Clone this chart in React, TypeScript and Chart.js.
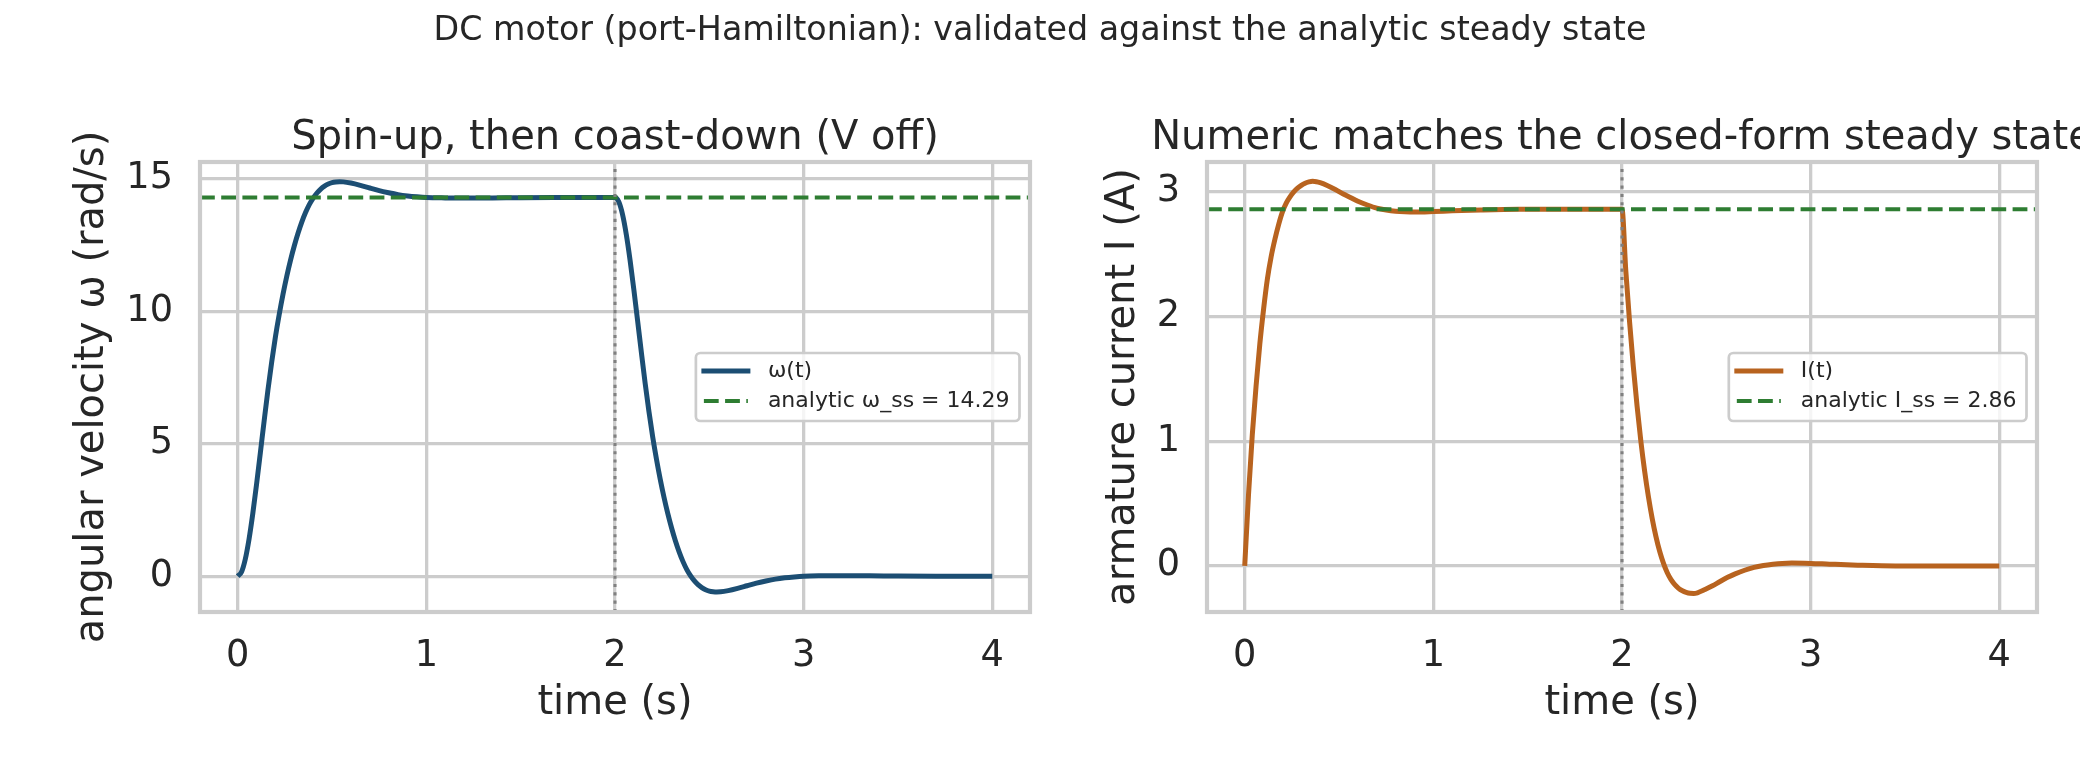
import React, { useEffect, useRef } from "react";
import { Chart, registerables } from "chart.js";

Chart.register(...registerables);

const FONT = "'DejaVu Sans', sans-serif";
const TEXT = "#262626";
const GRID = "#cccccc";

const SUPTITLE = "DC motor (port-Hamiltonian): validated against the analytic steady state";

// Shared time axis
const timeTicks = [0, 1, 2, 3, 4];
const T_MIN = -0.2;
const T_MAX = 4.2;
const T_OFF = 2; // supply voltage switched off

// Angular velocity ω(t) in rad/s
const omegaT = [
  0, 0.02, 0.04, 0.06, 0.08, 0.1, 0.12, 0.14, 0.16, 0.18, 0.2, 0.22, 0.24, 0.26, 0.28, 0.3, 0.32,
  0.34, 0.36, 0.38, 0.4, 0.42, 0.44, 0.46, 0.48, 0.5, 0.52, 0.54, 0.56, 0.6, 0.65, 0.7, 0.75, 0.8,
  0.85, 0.9, 0.95, 1.0, 1.1, 1.2, 1.35, 1.5, 1.7, 2.0, 2.02, 2.04, 2.06, 2.08, 2.1, 2.12, 2.14,
  2.16, 2.18, 2.2, 2.22, 2.24, 2.26, 2.28, 2.3, 2.32, 2.34, 2.36, 2.38, 2.4, 2.42, 2.44, 2.46,
  2.48, 2.5, 2.52, 2.54, 2.56, 2.6, 2.65, 2.7, 2.75, 2.8, 2.85, 2.9, 2.95, 3.0, 3.1, 3.2, 3.35,
  3.5, 3.7, 4.0,
];
const omegaV = [
  0, 0.16, 0.64, 1.4, 2.37, 3.48, 4.66, 5.86, 7.02, 8.08, 9.04, 9.88, 10.64, 11.32, 11.93, 12.47,
  12.95, 13.37, 13.73, 14.03, 14.27, 14.46, 14.61, 14.72, 14.8, 14.85, 14.875, 14.885, 14.88,
  14.835, 14.75, 14.65, 14.55, 14.47, 14.4, 14.35, 14.315, 14.29, 14.275, 14.27, 14.275, 14.285,
  14.29, 14.29, 14.13, 13.65, 12.89, 11.92, 10.81, 9.63, 8.43, 7.27, 6.21, 5.25, 4.41, 3.65, 2.97,
  2.36, 1.82, 1.34, 0.92, 0.56, 0.26, 0.02, -0.17, -0.32, -0.43, -0.51, -0.56, -0.585, -0.595,
  -0.59, -0.545, -0.46, -0.36, -0.26, -0.18, -0.11, -0.06, -0.025, 0.0, 0.015, 0.02, 0.015, 0.005,
  0.0, 0.0,
];
const OMEGA_SS = 14.29;
const omegaTicks = [0, 5, 10, 15];
const OMEGA_MIN = -1.35;
const OMEGA_MAX = 15.63;

// Armature current I(t) in A
const currentT = [
  0, 0.02, 0.04, 0.06, 0.08, 0.1, 0.12, 0.14, 0.16, 0.18, 0.2, 0.22, 0.24, 0.26, 0.28, 0.3, 0.32,
  0.34, 0.36, 0.38, 0.4, 0.44, 0.48, 0.52, 0.56, 0.6, 0.65, 0.7, 0.75, 0.8, 0.85, 0.9, 1.0, 1.1,
  1.25, 1.45, 2.0, 2.02, 2.04, 2.06, 2.08, 2.1, 2.12, 2.14, 2.16, 2.18, 2.2, 2.22, 2.24, 2.26,
  2.28, 2.3, 2.32, 2.34, 2.36, 2.38, 2.4, 2.44, 2.48, 2.52, 2.56, 2.6, 2.65, 2.7, 2.75, 2.8, 2.85,
  2.9, 3.0, 3.1, 3.25, 3.45, 4.0,
];
const currentV = [
  0, 0.57, 1.05, 1.44, 1.78, 2.06, 2.3, 2.48, 2.62, 2.74, 2.84, 2.91, 2.96, 3.0, 3.03, 3.053,
  3.07, 3.08, 3.085, 3.082, 3.074, 3.05, 3.02, 2.985, 2.955, 2.925, 2.895, 2.87, 2.855, 2.845,
  2.84, 2.838, 2.842, 2.848, 2.855, 2.86, 2.86, 2.37, 1.96, 1.6, 1.28, 1.0, 0.76, 0.555, 0.38,
  0.235, 0.115, 0.02, -0.055, -0.11, -0.15, -0.18, -0.2, -0.213, -0.22, -0.221, -0.216, -0.19,
  -0.16, -0.125, -0.092, -0.064, -0.035, -0.012, 0.003, 0.013, 0.02, 0.023, 0.02, 0.014, 0.006,
  0.0, 0.0,
];
const CURRENT_SS = 2.86;
const currentTicks = [0, 1, 2, 3];
const CURRENT_MIN = -0.37;
const CURRENT_MAX = 3.24;

const BLUE = "#1c4e73";
const ORANGE = "#b8631f";
const GREEN = "#2e7d32";
const GRAY = "#808080";

type Panel = {
  title: string;
  yLabel: string;
  seriesLabel: string;
  ssLabel: string;
  t: number[];
  v: number[];
  ss: number;
  yTicks: number[];
  yMin: number;
  yMax: number;
  color: string;
  axisWidth: number;
  yTitleX: number;
  padRight: number;
};

const panels: Panel[] = [
  {
    title: "Spin-up, then coast-down (V off)",
    yLabel: "angular velocity ω (rad/s)",
    seriesLabel: "ω(t)",
    ssLabel: `analytic ω_ss = ${OMEGA_SS.toFixed(2)}`,
    t: omegaT,
    v: omegaV,
    ss: OMEGA_SS,
    yTicks: omegaTicks,
    yMin: OMEGA_MIN,
    yMax: OMEGA_MAX,
    color: BLUE,
    axisWidth: 200,
    yTitleX: 93,
    padRight: 10,
  },
  {
    title: "Numeric matches the closed-form steady state",
    yLabel: "armature current I (A)",
    seriesLabel: "I(t)",
    ssLabel: `analytic I_ss = ${CURRENT_SS.toFixed(2)}`,
    t: currentT,
    v: currentV,
    ss: CURRENT_SS,
    yTicks: currentTicks,
    yMin: CURRENT_MIN,
    yMax: CURRENT_MAX,
    color: ORANGE,
    axisWidth: 167,
    yTitleX: 84,
    padRight: 43,
  },
];

// Spines, subplot title, rotated y label and an inset legend (center right)
function decorations(p: Panel) {
  return {
    id: "panelDecor",
    afterDatasetsDraw(chart: any) {
      const { ctx, chartArea: a } = chart;
      ctx.save();
      ctx.strokeStyle = GRID;
      ctx.lineWidth = 4.2;
      ctx.strokeRect(a.left, a.top, a.right - a.left, a.bottom - a.top);
      ctx.restore();
    },
    afterDraw(chart: any) {
      const { ctx, chartArea: a } = chart;
      const cx = (a.left + a.right) / 2;
      const cy = (a.top + a.bottom) / 2;

      ctx.save();
      ctx.fillStyle = TEXT;
      ctx.font = `40px ${FONT}`;
      ctx.textAlign = "center";
      ctx.textBaseline = "alphabetic";
      ctx.fillText(p.title, cx, a.top - 13.5);

      ctx.translate(p.yTitleX, cy);
      ctx.rotate(-Math.PI / 2);
      ctx.textBaseline = "middle";
      ctx.fillText(p.yLabel, 0, 0);
      ctx.restore();

      // legend
      const items = chart.data.datasets.slice(0, 2);
      ctx.save();
      ctx.font = `22px ${FONT}`;
      const textW = Math.max(...items.map((d: any) => ctx.measureText(d.label).width));
      const boxW = 72 + textW + 10;
      const boxH = 68;
      const bx = a.right - 10.5 - boxW;
      const by = cy - boxH / 2;
      ctx.beginPath();
      if (ctx.roundRect) ctx.roundRect(bx, by, boxW, boxH, 4.5);
      else ctx.rect(bx, by, boxW, boxH);
      ctx.fillStyle = "rgba(255,255,255,0.8)";
      ctx.fill();
      ctx.strokeStyle = GRID;
      ctx.lineWidth = 2.7;
      ctx.stroke();

      items.forEach((d: any, i: number) => {
        const y = by + 18 + i * 30;
        ctx.beginPath();
        ctx.strokeStyle = d.borderColor;
        ctx.lineWidth = d.borderWidth;
        const dash = d.borderDash || [];
        ctx.setLineDash(dash);
        ctx.lineCap = dash.length ? "butt" : "square";
        ctx.moveTo(bx + 8, y);
        ctx.lineTo(bx + 52, y);
        ctx.stroke();
        ctx.setLineDash([]);
        ctx.fillStyle = TEXT;
        ctx.textAlign = "left";
        ctx.textBaseline = "middle";
        ctx.fillText(d.label, bx + 72, y);
      });
      ctx.restore();
    },
  };
}

function buildConfig(p: Panel): any {
  const series = p.t.map((t, i) => ({ x: t, y: p.v[i] }));
  return {
    type: "line",
    data: {
      datasets: [
        {
          label: p.seriesLabel,
          data: series,
          borderColor: p.color,
          borderWidth: 5,
          pointRadius: 0,
          cubicInterpolationMode: "monotone",
          fill: false,
          order: 3,
        },
        {
          label: p.ssLabel,
          data: [
            { x: T_MIN, y: p.ss },
            { x: T_MAX, y: p.ss },
          ],
          borderColor: GREEN,
          borderWidth: 4,
          borderDash: [14.8, 6.4],
          pointRadius: 0,
          tension: 0,
          fill: false,
          order: 2,
        },
        {
          label: "V off",
          data: [
            { x: T_OFF, y: p.yMin },
            { x: T_OFF, y: p.yMax },
          ],
          borderColor: GRAY,
          borderWidth: 3.1,
          borderDash: [3.1, 5.2],
          pointRadius: 0,
          tension: 0,
          fill: false,
          order: 1,
        },
      ],
    },
    options: {
      responsive: false,
      animation: false,
      devicePixelRatio: 1,
      events: [],
      layout: { padding: { left: 0, right: p.padRight, top: 162, bottom: 0 } },
      plugins: {
        legend: { display: false },
        title: { display: false },
        tooltip: { enabled: false },
      },
      scales: {
        x: {
          type: "linear",
          min: T_MIN,
          max: T_MAX,
          bounds: "data",
          afterBuildTicks: (s: any) => {
            s.ticks = timeTicks.map((v) => ({ value: v }));
          },
          afterFit: (s: any) => {
            s.height = 156;
          },
          grid: { color: GRID, lineWidth: 3.3, drawTicks: false },
          border: { display: false },
          ticks: {
            padding: 22,
            color: TEXT,
            font: { family: FONT, size: 36.7, lineHeight: 1.2 },
            callback: (v: any) => String(v),
            maxRotation: 0,
          },
          title: {
            display: true,
            text: "time (s)",
            color: TEXT,
            font: { family: FONT, size: 40, lineHeight: 1.2 },
            padding: { top: 0, bottom: 40 },
          },
        },
        y: {
          type: "linear",
          min: p.yMin,
          max: p.yMax,
          bounds: "data",
          afterBuildTicks: (s: any) => {
            s.ticks = p.yTicks.map((v) => ({ value: v }));
          },
          afterFit: (s: any) => {
            s.width = p.axisWidth;
          },
          grid: { color: GRID, lineWidth: 3.3, drawTicks: false },
          border: { display: false },
          ticks: {
            padding: 27,
            color: TEXT,
            font: { family: FONT, size: 36.7, lineHeight: 1.2 },
            callback: (v: any) => String(v),
          },
        },
      },
    },
    plugins: [decorations(p)],
  };
}

function PanelChart({ panel, left }: { panel: Panel; left: number }) {
  const ref = useRef<HTMLCanvasElement>(null);
  useEffect(() => {
    const canvas = ref.current;
    if (!canvas) return;
    const chart = new Chart(canvas, buildConfig(panel));
    return () => chart.destroy();
  }, [panel]);
  return (
    <canvas
      ref={ref}
      width={1040}
      height={768}
      style={{ position: "absolute", left, top: 0, width: 1040, height: 768 }}
    />
  );
}

export default function App() {
  return (
    <div
      style={{
        position: "absolute",
        left: 0,
        top: 0,
        width: 2080,
        height: 768,
        background: "#ffffff",
        overflow: "hidden",
      }}
    >
      <PanelChart panel={panels[0]} left={0} />
      <PanelChart panel={panels[1]} left={1040} />
      <div
        style={{
          position: "absolute",
          left: 0,
          top: 12,
          width: 2080,
          textAlign: "center",
          fontFamily: FONT,
          fontSize: 33.3,
          lineHeight: "33.3px",
          color: TEXT,
          whiteSpace: "nowrap",
        }}
      >
        {SUPTITLE}
      </div>
    </div>
  );
}
